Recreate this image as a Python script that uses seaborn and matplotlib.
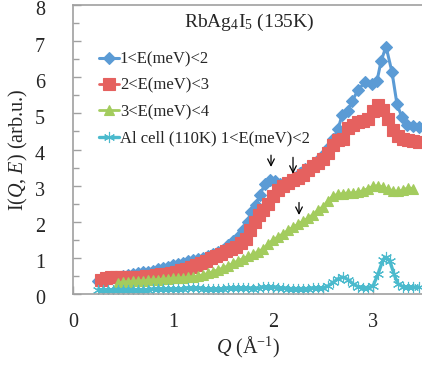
import matplotlib
matplotlib.use("Agg")
import matplotlib.pyplot as plt
import matplotlib.transforms as mtrans
import seaborn as sns
import pandas as pd

# values
q_blue = [0.25, 0.30, 0.35, 0.40, 0.45, 0.50, 0.55, 0.60, 0.65, 0.70, 0.75, 0.80, 0.85, 0.90,
          0.95, 1.00, 1.05, 1.10, 1.15, 1.20, 1.25, 1.30, 1.35, 1.40, 1.45, 1.50, 1.55, 1.60,
          1.65, 1.70, 1.75, 1.78, 1.83, 1.87, 1.92, 1.97, 2.02, 2.07, 2.12, 2.17, 2.22, 2.27,
          2.32, 2.38, 2.44, 2.50, 2.55, 2.60, 2.65, 2.69, 2.75, 2.79, 2.85, 2.92, 2.99, 3.04,
          3.08, 3.13, 3.19, 3.24, 3.29, 3.34, 3.40, 3.46]
i_blue = [0.35, 0.42, 0.44, 0.46, 0.48, 0.50, 0.53, 0.55, 0.57, 0.60, 0.62, 0.65, 0.68, 0.72,
          0.76, 0.80, 0.83, 0.87, 0.90, 0.94, 0.97, 1.00, 1.05, 1.10, 1.15, 1.22, 1.35, 1.48,
          1.58, 1.78, 2.00, 2.28, 2.47, 2.75, 3.05, 3.15, 3.12, 3.05, 3.02, 3.15, 3.22, 3.35,
          3.45, 3.55, 3.67, 3.85, 4.05, 4.28, 4.56, 4.95, 5.06, 5.33, 5.65, 5.86, 5.80, 5.90,
          6.44, 6.85, 6.14, 5.25, 4.89, 4.69, 4.64, 4.62]

q_red = [0.28, 0.33, 0.38, 0.43, 0.48, 0.53, 0.58, 0.63, 0.68, 0.73, 0.78, 0.83, 0.88, 0.93,
         0.98, 1.03, 1.08, 1.13, 1.18, 1.23, 1.28, 1.33, 1.38, 1.43, 1.48, 1.53, 1.58, 1.63,
         1.68, 1.73, 1.77, 1.82, 1.86, 1.90, 1.95, 2.00, 2.05, 2.10, 2.15, 2.20, 2.25, 2.30,
         2.35, 2.40, 2.45, 2.50, 2.55, 2.60, 2.65, 2.70, 2.75, 2.80, 2.85, 2.90, 2.95, 3.00,
         3.05, 3.10, 3.15, 3.20, 3.25, 3.30, 3.35, 3.40, 3.46]
i_red = [0.40, 0.45, 0.47, 0.48, 0.48, 0.48, 0.48, 0.48, 0.48, 0.49, 0.50, 0.52, 0.54, 0.56,
         0.58, 0.62, 0.66, 0.70, 0.75, 0.80, 0.85, 0.92, 1.00, 1.06, 1.12, 1.18, 1.24, 1.30,
         1.40, 1.52, 1.78, 2.00, 2.20, 2.32, 2.48, 2.70, 2.88, 2.98, 3.08, 3.15, 3.22, 3.30,
         3.42, 3.53, 3.62, 3.75, 3.90, 4.12, 4.25, 4.30, 4.60, 4.68, 4.75, 4.78, 4.85, 5.06,
         5.22, 5.10, 4.85, 4.55, 4.36, 4.28, 4.25, 4.24, 4.22]

q_green = [0.45, 0.50, 0.55, 0.60, 0.65, 0.70, 0.75, 0.80, 0.85, 0.90, 0.95, 1.00, 1.05, 1.10,
           1.15, 1.20, 1.25, 1.30, 1.35, 1.40, 1.45, 1.50, 1.55, 1.60, 1.65, 1.70, 1.75, 1.80,
           1.85, 1.90, 1.95, 2.00, 2.05, 2.10, 2.15, 2.20, 2.25, 2.30, 2.35, 2.40, 2.45, 2.50,
           2.55, 2.60, 2.65, 2.70, 2.75, 2.80, 2.85, 2.90, 2.95, 3.00, 3.05, 3.10, 3.15, 3.20,
           3.25, 3.30, 3.35, 3.40]
i_green = [0.30, 0.33, 0.34, 0.35, 0.36, 0.37, 0.38, 0.39, 0.40, 0.41, 0.42, 0.43, 0.44, 0.45,
           0.46, 0.48, 0.50, 0.53, 0.57, 0.62, 0.67, 0.72, 0.78, 0.85, 0.92, 0.98, 1.04, 1.10,
           1.17, 1.25, 1.38, 1.50, 1.58, 1.67, 1.76, 1.85, 1.93, 2.02, 2.10, 2.20, 2.32, 2.42,
           2.58, 2.72, 2.76, 2.78, 2.80, 2.80, 2.82, 2.86, 2.92, 2.98, 3.00, 2.96, 2.90, 2.86,
           2.84, 2.88, 2.94, 2.92]

q_cyan = [0.25, 0.30, 0.35, 0.40, 0.45, 0.50, 0.55, 0.60, 0.65, 0.70, 0.75, 0.80, 0.85, 0.90,
          0.95, 1.00, 1.05, 1.10, 1.15, 1.20, 1.25, 1.30, 1.35, 1.40, 1.45, 1.50, 1.55, 1.60,
          1.65, 1.70, 1.75, 1.80, 1.85, 1.90, 1.95, 2.00, 2.05, 2.10, 2.15, 2.20, 2.25, 2.30,
          2.35, 2.40, 2.45, 2.50, 2.55, 2.60, 2.65, 2.70, 2.75, 2.80, 2.85, 2.90, 2.95, 3.00,
          3.05, 3.10, 3.13, 3.17, 3.21, 3.25, 3.30, 3.35, 3.40, 3.46]
i_cyan = [0.12, 0.12, 0.11, 0.11, 0.11, 0.11, 0.12, 0.12, 0.12, 0.12, 0.12, 0.13, 0.13, 0.13,
          0.13, 0.13, 0.14, 0.15, 0.17, 0.18, 0.17, 0.15, 0.14, 0.14, 0.14, 0.15, 0.16, 0.17,
          0.18, 0.17, 0.16, 0.15, 0.16, 0.19, 0.20, 0.19, 0.17, 0.16, 0.15, 0.15, 0.15, 0.15,
          0.15, 0.16, 0.16, 0.17, 0.22, 0.32, 0.42, 0.47, 0.40, 0.28, 0.20, 0.18, 0.18, 0.22,
          0.55, 0.95, 1.02, 0.90, 0.55, 0.28, 0.20, 0.19, 0.19, 0.19]

labels = ["1<E(meV)<2", "2<E(meV)<3", "3<E(meV)<4", "Al cell (110K) 1<E(meV)<2"]

sns.set_style("ticks")
plt.rcParams["font.family"] = ["Liberation Serif", "DejaVu Serif"]
plt.rcParams["mathtext.fontset"] = "custom"
plt.rcParams["mathtext.rm"] = "Liberation Serif"
plt.rcParams["mathtext.it"] = "Liberation Serif:italic"

fig = plt.figure(figsize=(4.22, 3.65), dpi=100)
ax = fig.add_axes([0.173, 0.1945, 0.8294, 0.7918])

series = [
    (q_blue, i_blue, "#5b9bd5", "D", 6, 2.2),
    (q_red, i_red, "#e5615f", "s", 8, 2.0),
    (q_green, i_green, "#a3cc5e", "^", 7.5, 2.0),
    (q_cyan, i_cyan, "#4bbacd", (6, 2, 0), 8, 2.4),
]
for (q, y, col, mk, ms, lw), lab in zip(series, labels):
    df = pd.DataFrame({"Q": q, "I": y})
    sns.lineplot(data=df, x="Q", y="I", ax=ax, color=col, marker=mk, markersize=ms,
                 linewidth=lw, markeredgecolor=col, markeredgewidth=0.8, label=lab,
                 sort=False)

ax.set_xlim(0, 3.5)
ax.set_ylim(0, 8)
ax.set_xticks([0, 1, 2, 3])
ax.set_xticks([0.5, 1.5, 2.5], minor=True)
ax.set_yticks(range(0, 9))
ax.set_yticks([k + 0.5 for k in range(8)], minor=True)
ax.tick_params(which="major", direction="in", length=6, width=1, color="#a0a0a0",
               labelsize=14.5, pad=14)
ax.tick_params(which="minor", direction="in", length=4, width=1, color="#a0a0a0")
ax.tick_params(axis="y", pad=20)
for s in ax.spines.values():
    s.set_color("#a0a0a0")
    s.set_linewidth(1.2)

# nudge y tick labels down a touch so the top "8" stays inside the picture
shift = mtrans.ScaledTranslation(0, -2.5 / 72, fig.dpi_scale_trans)
for t in ax.get_yticklabels():
    t.set_transform(t.get_transform() + shift)

ax.set_xlabel(r"$Q$ ($\mathrm{\AA}^{-1}$)", fontsize=14.5, labelpad=2)
ax.set_ylabel(r"I($Q$, $E$) (arb.u.)", fontsize=14.5, labelpad=4)
ax.text(0.503, 0.941, r"RbAg$_4$I$_5$ (135K)", transform=ax.transAxes, fontsize=14,
        ha="center", va="center")

# arrows marking the shoulders
for xa, y0, y1 in [(1.98, 3.92, 3.44), (2.2, 3.86, 3.25), (2.26, 2.61, 2.11)]:
    ax.annotate("", xy=(xa, y1), xytext=(xa, y0),
                arrowprops=dict(arrowstyle="->", color="black", lw=0.9,
                                mutation_scale=12))

ax.legend(loc="upper left", bbox_to_anchor=(0.055, 0.862), frameon=False, fontsize=12,
          handlelength=1.2, handletextpad=0.05, labelspacing=0.62, borderaxespad=0)

fig.savefig("out.png", dpi=100)
